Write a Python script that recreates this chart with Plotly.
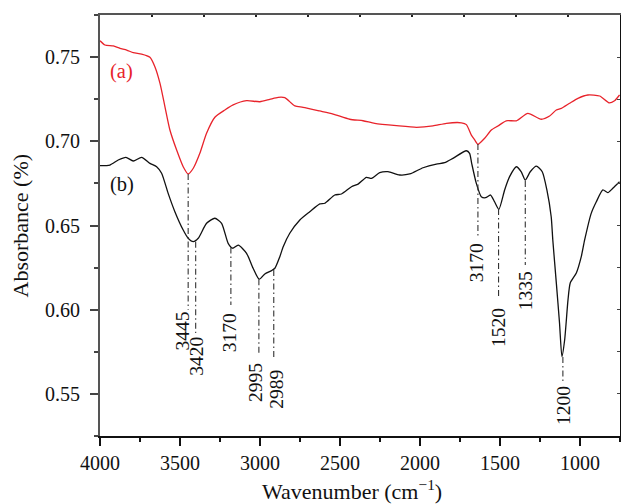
import plotly.graph_objects as go

# ---- data ----
wn_a = [4000, 3969, 3917, 3875, 3833, 3792, 3740, 3688, 3657, 3625, 3594, 3563, 3521, 3480,
        3449, 3417, 3376, 3334, 3282, 3219, 3168, 3084, 3001, 2939, 2887, 2845, 2782, 2731,
        2626, 2543, 2439, 2356, 2283, 2147, 2022, 1919, 1835, 1741, 1710, 1679, 1658, 1638,
        1596, 1554, 1513, 1461, 1398, 1326, 1242, 1190, 1148, 1117, 1065, 1013, 951, 877,
        820, 784, 753]
abs_a = [0.7597, 0.7572, 0.7566, 0.7552, 0.7542, 0.7526, 0.7518, 0.7499, 0.7443, 0.7344,
         0.7205, 0.7067, 0.6948, 0.6849, 0.6806, 0.6840, 0.6929, 0.7048, 0.7143, 0.7186,
         0.7216, 0.7241, 0.7235, 0.7249, 0.7261, 0.7259, 0.7210, 0.7202, 0.7180, 0.7162,
         0.7131, 0.7122, 0.7107, 0.7093, 0.7083, 0.7091, 0.7107, 0.7110, 0.7099, 0.7037,
         0.7008, 0.6982, 0.7018, 0.7067, 0.7091, 0.7122, 0.7122, 0.7166, 0.7131, 0.7150,
         0.7186, 0.7196, 0.7226, 0.7255, 0.7275, 0.7269, 0.7229, 0.7241, 0.7275]

wn_b = [4000, 3938, 3886, 3838, 3792, 3740, 3688, 3646, 3615, 3574, 3532, 3480, 3449, 3417,
        3386, 3334, 3282, 3240, 3199, 3171, 3136, 3084, 3043, 3005, 2970, 2928, 2907, 2876,
        2855, 2814, 2751, 2689, 2626, 2595, 2533, 2491, 2428, 2387, 2335, 2303, 2252, 2200,
        2127, 2064, 1981, 1898, 1846, 1794, 1710, 1690, 1677, 1648, 1617, 1590, 1559, 1534,
        1507, 1471, 1440, 1398, 1367, 1342, 1311, 1273, 1236, 1207, 1180, 1170, 1148, 1128,
        1113, 1096, 1075, 1061, 1023, 992, 971, 930, 898, 857, 826, 795, 753]
abs_b = [0.6855, 0.6859, 0.6889, 0.6905, 0.6883, 0.6905, 0.6869, 0.6849, 0.6810, 0.6691,
         0.6582, 0.6473, 0.6424, 0.6404, 0.6424, 0.6513, 0.6543, 0.6513, 0.6394, 0.6365,
         0.6384, 0.6335, 0.6246, 0.6181, 0.6212, 0.6232, 0.6246, 0.6315, 0.6374, 0.6454,
         0.6533, 0.6582, 0.6628, 0.6632, 0.6681, 0.6687, 0.6730, 0.6746, 0.6786, 0.6780,
         0.6814, 0.6820, 0.6800, 0.6806, 0.6843, 0.6865, 0.6873, 0.6899, 0.6944, 0.6928,
         0.6869, 0.6750, 0.6671, 0.6665, 0.6681, 0.6641, 0.6596, 0.6711, 0.6790, 0.6849,
         0.6819, 0.6770, 0.6819, 0.6853, 0.6819, 0.6711, 0.6552, 0.6414, 0.6159, 0.5921,
         0.5721, 0.5820, 0.6058, 0.6159, 0.6218, 0.6315, 0.6414, 0.6572, 0.6641, 0.6711,
         0.6695, 0.6721, 0.6760]

# peak markers: label, line x, line top, line bottom, label x, label y
peak_labels = ["3445", "3420", "3170", "2995", "2989", "3170", "1520", "1335", "1200"]
peak_line_x = [3449, 3402, 3182, 3007, 2914, 1638, 1509, 1342, 1107]
peak_line_top = [0.6806, 0.6404, 0.6370, 0.6181, 0.6236, 0.6984, 0.6598, 0.6764, 0.5719]
peak_line_bot = [0.6000, 0.5862, 0.6028, 0.5730, 0.5713, 0.6432, 0.6075, 0.6265, 0.5565]
peak_text_x = [3484, 3402, 3186, 3028, 2901, 1648, 1513, 1342, 1107]
peak_text_y = [0.5874, 0.5725, 0.5862, 0.5568, 0.5529, 0.6277, 0.5897, 0.6111, 0.5434]

series_labels = ["(a)", "(b)"]
series_label_x = [3865, 3860]
series_label_y = [0.7412, 0.6746]

x_range = [4000, 750]
y_range = [0.525, 0.775]
frame_x = [0, 10]

FONT = "Liberation Serif"
RED = "#e8232b"
BLACK = "#111111"

fig = go.Figure()
fig.add_trace(go.Scatter(x=wn_a, y=abs_a, mode="lines", line=dict(color=RED, width=1.3, shape="spline", smoothing=0.6),
                         hoverinfo="skip", showlegend=False))
fig.add_trace(go.Scatter(x=wn_b, y=abs_b, mode="lines", line=dict(color=BLACK, width=1.3, shape="spline", smoothing=0.6),
                         hoverinfo="skip", showlegend=False))
# invisible helper trace so the frame axes (top/right) exist
fig.add_trace(go.Scatter(x=frame_x, y=y_range, xaxis="x2", yaxis="y2", mode="markers",
                         marker=dict(opacity=0), hoverinfo="skip", showlegend=False))

for i, lab in enumerate(peak_labels):
    fig.add_shape(type="line", xref="x", yref="y", x0=peak_line_x[i], x1=peak_line_x[i],
                  y0=peak_line_top[i], y1=peak_line_bot[i],
                  line=dict(color="#333333", width=1.1, dash="6px,3px,1.5px,3px"))
    fig.add_annotation(x=peak_text_x[i], y=peak_text_y[i], xref="x", yref="y", text=lab,
                       textangle=-90, showarrow=False, xanchor="center", yanchor="middle",
                       font=dict(family=FONT, size=19.5, color="#111"))

colors = [RED, BLACK]
for i, lab in enumerate(series_labels):
    fig.add_annotation(x=series_label_x[i], y=series_label_y[i], xref="x", yref="y", text=lab,
                       showarrow=False, xanchor="center", yanchor="middle",
                       font=dict(family=FONT, size=20.5, color=colors[i]))

fig.add_annotation(x=0.5, y=0, xref="paper", yref="paper", xshift=-8, yshift=-54,
                   text="Wavenumber (cm<sup>−1</sup>)", showarrow=False, xanchor="center", yanchor="middle",
                   font=dict(family=FONT, size=22, color="#111"))
fig.add_annotation(x=0, y=0.5, xref="paper", yref="paper", xshift=-80,
                   text="Absorbance (%)", textangle=-90, showarrow=False, xanchor="center", yanchor="middle",
                   font=dict(family=FONT, size=22, color="#111"))

fig.update_layout(
    width=621, height=504,
    margin=dict(l=100, r=1, t=15, b=68),
    paper_bgcolor="white", plot_bgcolor="white",
    font=dict(family=FONT, size=19, color="#111"),
    xaxis=dict(range=x_range, dtick=500, tick0=4000, showgrid=False, zeroline=False,
               showline=True, linecolor="#111", linewidth=1.5,
               ticks="outside", ticklen=8, tickwidth=1.5, tickcolor="#111",
               minor=dict(dtick=250, ticks="outside", ticklen=4, tickwidth=1.5, tickcolor="#111"),
               tickfont=dict(family=FONT, size=20, color="#111")),
    yaxis=dict(range=y_range, dtick=0.05, tick0=0.55, tickformat=".2f", showgrid=False, zeroline=False,
               showline=True, linecolor="#555", linewidth=2,
               ticks="outside", ticklen=8, tickwidth=1.5, tickcolor="#444",
               minor=dict(dtick=0.025, ticks="outside", ticklen=4, tickwidth=1.5, tickcolor="#444"),
               ticklabelstandoff=6,
               tickfont=dict(family=FONT, size=20, color="#111")),
    xaxis2=dict(overlaying="x", side="top", range=frame_x, dtick=1, showgrid=False, zeroline=False,
                showline=True, linecolor="#555", linewidth=2, ticks="inside", ticklen=2,
                tickcolor="#222", tickwidth=1.5, showticklabels=False),
    yaxis2=dict(overlaying="y", side="right", range=y_range, dtick=0.025, showgrid=False, zeroline=False,
                showline=True, linecolor="#111", linewidth=1, ticks="inside", ticklen=3,
                tickcolor="#444", tickwidth=1, showticklabels=False),
)

fig.write_html("out.html")
